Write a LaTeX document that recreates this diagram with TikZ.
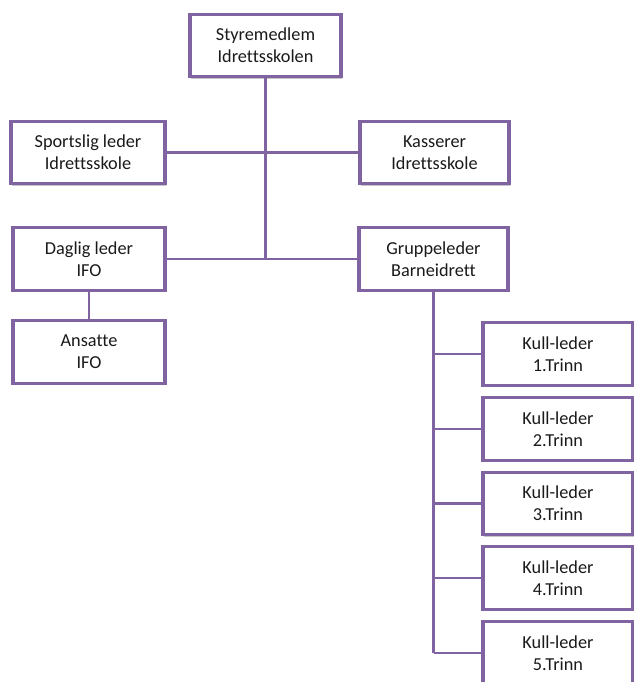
\documentclass[tikz,border=0pt]{standalone}
\usepackage{fontspec}
\setmainfont{Carlito}[Ligatures=NoCommon]
\usetikzlibrary{shadows}
\usepackage{xcolor}
\definecolor{boxpurple}{HTML}{8064A2}
\definecolor{textgrey}{HTML}{1A1A1A}

\begin{document}
\begin{tikzpicture}[
    rolle/.style={draw=boxpurple, line width=1.8pt, fill=white,
        minimum width=3cm, minimum height=1.25cm, align=center,
        font=\fontsize{10.4}{12.5}\selectfont, text=textgrey,
        drop shadow={shadow xshift=0.8pt, shadow yshift=-1pt, opacity=0.45}},
    linje/.style={draw=boxpurple, line width=1.3pt}
]

    \useasboundingbox (0,0) rectangle (12.68,13.64);

    % Top
    \node[rolle, minimum width=3.02cm] (styre) at (5.31,12.73) {Styremedlem\\Idrettsskolen};

    % Second row
    \node[rolle, minimum width=3.08cm] (sport) at (1.76,10.59) {Sportslig leder\\Idrettsskole};
    \node[rolle, minimum width=2.98cm] (kass) at (8.69,10.59) {Kasserer\\Idrettsskole};

    % Third row
    \node[rolle, minimum width=3.04cm] (daglig) at (1.78,8.46) {Daglig leder\\IFO};
    \node[rolle, minimum width=2.98cm] (gruppe) at (8.67,8.46) {Gruppeleder\\Barneidrett};

    \node[rolle, minimum width=3.04cm] (ansatte) at (1.78,6.60) {Ansatte\\IFO};

    % Kull boxes
    \foreach \n/\y in {1/6.56, 2/5.06, 3/3.57, 4/2.08, 5/0.58}
        \node[rolle] (kull\n) at (11.16,\y) {Kull-leder\\\n.Trinn};

    % Lines
    \path[linje] (styre.south) -- (styre.south |- daglig.east);
    \path[linje] (sport.east) -- (kass.west);
    \path[linje] (daglig.east) -- (gruppe.west);
    \path[linje] (daglig.south) -- (ansatte.north);

    \path[linje] (gruppe.south) -- (gruppe.south |- kull5.west);
    \foreach \n in {1,...,5}
        \path[linje] (gruppe.south |- kull\n.west) -- (kull\n.west);

\end{tikzpicture}
\end{document}
